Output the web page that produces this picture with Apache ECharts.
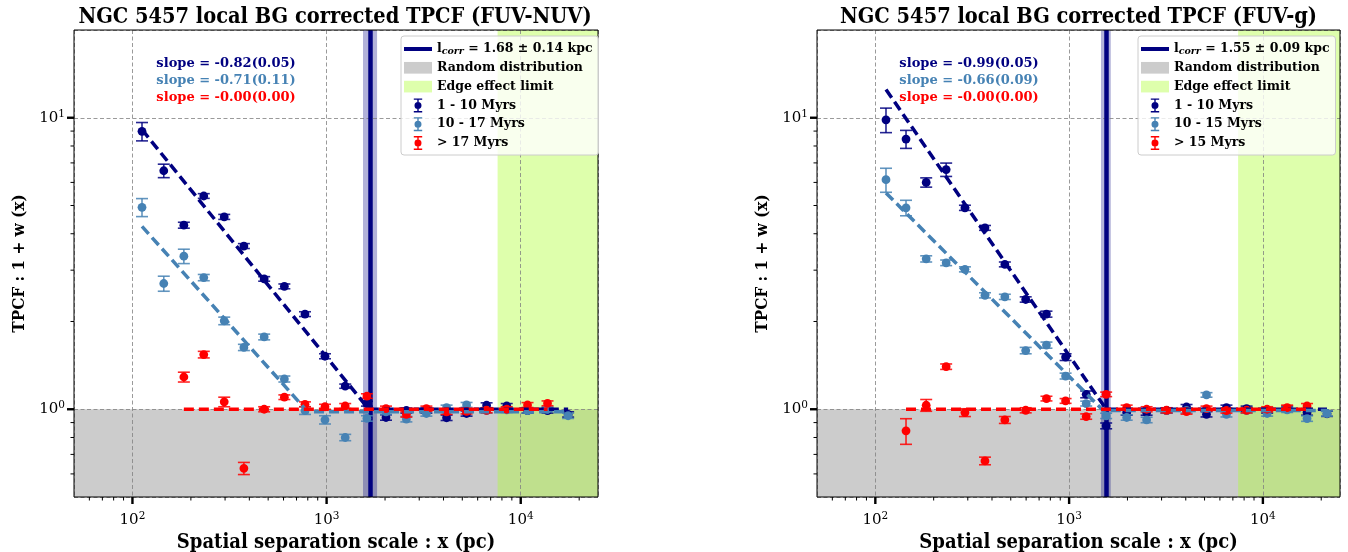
<!DOCTYPE html>
<html>
<head>
<meta charset="utf-8">
<title>NGC 5457 TPCF</title>
<style>
html, body { margin: 0; padding: 0; background: #fff; }
#chart { width: 1348px; height: 552px; }
</style>
<script src="https://cdn.jsdelivr.net/npm/echarts@6/dist/echarts.min.js"></script>
</head>
<body>
<div id="chart"></div>
<script>
// ---- data ----
const titles = ['NGC 5457 local BG corrected TPCF (FUV-NUV)', 'NGC 5457 local BG corrected TPCF (FUV-g)'];
const ageNames = [['1 - 10 Myrs', '10 - 17 Myrs', '> 17 Myrs'], ['1 - 10 Myrs', '10 - 15 Myrs', '> 15 Myrs']];
const slopeTexts = [
    ['slope = -0.82(0.05)', 'slope = -0.71(0.11)', 'slope = -0.00(0.00)'],
    ['slope = -0.99(0.05)', 'slope = -0.66(0.09)', 'slope = -0.00(0.00)']
];
const lcorrKpc = [1.68, 1.55];
const lcorrErr = [0.14, 0.09];
const edgeStart = [7600, 7450];
const xRange = [50, 25000];
const yRange = [0.5, 20];

// FUV-NUV panel
const sepL = [112, 145, 184, 233, 297, 375, 477, 606, 774, 981, 1247, 1614, 2023, 2576, 3266, 4150, 5260, 6670, 8470, 10840, 13740, 17540];
const youngL = [8.98, 6.58, 4.28, 5.39, 4.57, 3.63, 2.80, 2.64, 2.12, 1.52, 1.20, 1.045, 0.937, 0.99, 0.99, 0.935, 0.967, 1.032, 1.026, 0.99, 0.99, 0.96];
const youngErrL = [0.65, 0.35, 0.10, 0.10, 0.09, 0.07, 0.05, 0.05, 0.04, 0.03, 0.02, 0.02, 0.02, 0.02, 0.02, 0.02, 0.02, 0.02, 0.02, 0.02, 0.02, 0.02];
const midL = [4.93, 2.70, 3.35, 2.83, 2.01, 1.63, 1.77, 1.27, 0.99, 0.92, 0.80, 0.93, 0.98, 0.925, 0.967, 1.013, 1.035, 0.99, 0.995, 0.99, 1.0, 0.95];
const midErrL = [0.35, 0.16, 0.19, 0.07, 0.06, 0.04, 0.04, 0.03, 0.03, 0.03, 0.02, 0.02, 0.02, 0.02, 0.02, 0.02, 0.02, 0.02, 0.02, 0.02, 0.02, 0.02];
const oldL = [null, null, 1.29, 1.54, 1.06, 0.627, 1.0, 1.10, 1.04, 1.02, 1.026, 1.11, 1.005, 0.96, 1.005, 0.98, 0.984, 0.992, 1.0, 1.034, 1.048, null];
const oldErrL = [null, null, 0.05, 0.04, 0.04, 0.03, 0.02, 0.02, 0.02, 0.02, 0.02, 0.02, 0.02, 0.02, 0.02, 0.02, 0.02, 0.02, 0.02, 0.02, 0.02, null];
const fitYoungL = [[112, 9.1], [1650, 1.0], [17540, 1.0]];
const fitMidL = [[112, 4.24], [800, 0.98], [17540, 0.98]];
const fitOldL = [[184, 1.0], [13740, 1.0]];

// FUV-g panel
const sepR = [113.5, 144, 183, 232, 290, 368, 466, 597, 764, 959, 1225, 1553, 1982, 2512, 3184, 4036, 5117, 6486, 8241, 10520, 13340, 16900, 21430];
const youngR = [9.84, 8.45, 6.0, 6.64, 4.91, 4.19, 3.14, 2.38, 2.12, 1.51, 1.125, 0.877, 0.974, 0.974, 0.99, 1.018, 0.961, 1.013, 1.005, 0.99, 1.005, 0.974, 0.965];
const youngErrR = [0.95, 0.6, 0.22, 0.35, 0.10, 0.08, 0.06, 0.05, 0.05, 0.04, 0.03, 0.02, 0.02, 0.02, 0.02, 0.02, 0.02, 0.02, 0.02, 0.02, 0.02, 0.02, 0.02];
const midR = [6.13, 4.91, 3.28, 3.18, 3.02, 2.46, 2.43, 1.59, 1.66, 1.30, 1.046, 0.949, 0.937, 0.919, 0.99, 0.99, 1.12, 0.961, 0.99, 0.967, 0.995, 0.929, 0.967];
const midErrR = [0.58, 0.30, 0.08, 0.07, 0.06, 0.05, 0.05, 0.04, 0.04, 0.03, 0.02, 0.02, 0.02, 0.02, 0.02, 0.02, 0.02, 0.02, 0.02, 0.02, 0.02, 0.02, 0.02];
const oldR = [null, 0.843, 1.032, 1.40, 0.974, 0.665, 0.919, 0.992, 1.088, 1.068, 0.944, 1.125, 1.013, 1.0, 0.992, 0.982, 1.005, 0.99, 0.992, 1.0, 1.013, 1.026, null];
const oldErrR = [null, 0.085, 0.048, 0.03, 0.03, 0.02, 0.025, 0.02, 0.02, 0.02, 0.02, 0.02, 0.02, 0.02, 0.02, 0.02, 0.02, 0.02, 0.02, 0.02, 0.02, 0.02, null];
const fitYoungR = [[113.5, 12.5], [1553, 1.0], [21430, 1.0]];
const fitMidR = [[113.5, 5.52], [1500, 0.99], [21430, 0.99]];
const fitOldR = [[144, 1.0], [16900, 1.0]];

// tick positions
const xMajorTicks = [100, 1000, 10000];
const xMinorTicks = [60, 70, 80, 90, 200, 300, 400, 500, 600, 700, 800, 900, 2000, 3000, 4000, 5000, 6000, 7000, 8000, 9000, 20000];
const yMajorTicks = [1, 10];
const yMinorTicks = [0.6, 0.7, 0.8, 0.9, 2, 3, 4, 5, 6, 7, 8, 9];

const FONT = '"DejaVu Serif", serif';
const FONT_C = '"DejaVu Serif Condensed", "DejaVu Serif", serif';
const NAVY = '#000080', STEEL = '#4682b4', RED = '#ff0000';
const ageColors = [NAVY, STEEL, RED];

const panels = [
    { sep: sepL, vals: [youngL, midL, oldL], errs: [youngErrL, midErrL, oldErrL], fits: [fitYoungL, fitMidL, fitOldL] },
    { sep: sepR, vals: [youngR, midR, oldR], errs: [youngErrR, midErrR, oldErrR], fits: [fitYoungR, fitMidR, fitOldR] }
];
const grids = [
    { left: 74, right: 750, top: 30, bottom: 55 },
    { left: 817, right: 8, top: 30, bottom: 55 }
];

const chart = echarts.init(document.getElementById('chart'));

function errorBarItem(color) {
    return function (params, api) {
        const x = api.value(0), y = api.value(1), e = api.value(2);
        const c = api.coord([x, y]);
        const hi = api.coord([x, y + e]);
        const lo = api.coord([x, y - e]);
        const cap = 6;
        const st = { stroke: color, lineWidth: 1.6, opacity: 0.85 };
        return {
            type: 'group',
            children: [
                { type: 'line', shape: { x1: c[0], y1: hi[1], x2: c[0], y2: lo[1] }, style: st },
                { type: 'line', shape: { x1: c[0] - cap, y1: hi[1], x2: c[0] + cap, y2: hi[1] }, style: st },
                { type: 'line', shape: { x1: c[0] - cap, y1: lo[1], x2: c[0] + cap, y2: lo[1] }, style: st },
                { type: 'circle', shape: { cx: c[0], cy: c[1], r: 4.4 }, style: { fill: color } }
            ]
        };
    };
}

// kind: 0 x major, 1 x minor, 2 y major, 3 y minor
function tickItem(params, api) {
    const c = api.coord([api.value(0), api.value(1)]);
    const kind = api.value(2);
    const len = kind % 2 === 0 ? 7 : 3.5;
    const w = kind % 2 === 0 ? 2.4 : 1;
    const shape = kind < 2
        ? { x1: c[0], y1: c[1], x2: c[0], y2: c[1] + len }
        : { x1: c[0] - len, y1: c[1], x2: c[0], y2: c[1] };
    return { type: 'line', shape: shape, style: { stroke: '#000', lineWidth: w } };
}

function powLabel(v) {
    const e = Math.log10(v);
    if (Math.abs(e - Math.round(e)) > 1e-6) return '';
    return '{b|10}{s|' + Math.round(e) + '}';
}
const powRich = {
    b: { fontFamily: FONT, fontSize: 15, color: '#000', lineHeight: 18 },
    s: { fontFamily: FONT, fontSize: 10.5, color: '#000', lineHeight: 12, verticalAlign: 'top' }
};

const legendIcons = {
    line: 'path://M0,0H28V4H0Z',
    patch: 'path://M0,0H24V10H0Z',
    err: 'path://M2,0H14V2H2Z M7,0H9V20H7Z M2,18H14V20H2Z M8,5A5,5,0,1,1,7.99,5Z'
};
const lcorrNames = lcorrKpc.map((v, i) => 'lcorr' + i);

let series = [];
panels.forEach((P, i) => {
    series.push({
        name: 'Random distribution', type: 'scatter', xAxisIndex: i, yAxisIndex: i, data: [], silent: true,
        itemStyle: { color: 'rgba(128,128,128,0.4)', opacity: 1 },
        markArea: {
            silent: true, z: 1, itemStyle: { color: 'rgba(128,128,128,0.4)' },
            data: [[{ yAxis: yRange[0] }, { yAxis: 1 }]]
        }
    });
    series.push({
        name: 'Edge effect limit', type: 'scatter', xAxisIndex: i, yAxisIndex: i, data: [], silent: true,
        itemStyle: { color: 'rgba(173,255,47,0.4)', opacity: 1 },
        markArea: {
            silent: true, z: 1, itemStyle: { color: 'rgba(173,255,47,0.4)' },
            data: [[{ xAxis: edgeStart[i] }, { xAxis: xRange[1] }]]
        }
    });
    series.push({
        name: lcorrNames[i], type: 'scatter', xAxisIndex: i, yAxisIndex: i, data: [], silent: true,
        itemStyle: { color: NAVY, opacity: 1 },
        markArea: {
            silent: true, z: 1, itemStyle: { color: 'rgba(0,0,128,0.3)' },
            data: [[{ xAxis: (lcorrKpc[i] - lcorrErr[i]) * 1000 }, { xAxis: (lcorrKpc[i] + lcorrErr[i]) * 1000 }]]
        },
        markLine: {
            silent: true, z: 3, symbol: 'none', label: { show: false },
            lineStyle: { color: NAVY, width: 4.5, type: 'solid', opacity: 1 },
            data: [{ xAxis: lcorrKpc[i] * 1000 }]
        }
    });
    P.vals.forEach((vals, k) => {
        const data = [];
        P.sep.forEach((x, j) => { if (vals[j] != null) data.push([x, vals[j], P.errs[k][j]]); });
        series.push({
            name: ageNames[i][k], type: 'custom', xAxisIndex: i, yAxisIndex: i, z: 4, silent: true,
            itemStyle: { color: ageColors[k] },
            renderItem: errorBarItem(ageColors[k]),
            data: data
        });
    });
    P.fits.forEach((fit, k) => {
        series.push({
            name: 'fit' + i + k, type: 'line', xAxisIndex: i, yAxisIndex: i, z: 5, silent: true,
            showSymbol: false, data: fit,
            lineStyle: { color: ageColors[k], width: 3.5, type: [10, 5] }
        });
    });
    const ticks = [];
    xMajorTicks.forEach(v => ticks.push([v, yRange[0], 0]));
    xMinorTicks.forEach(v => ticks.push([v, yRange[0], 1]));
    yMajorTicks.forEach(v => ticks.push([xRange[0], v, 2]));
    yMinorTicks.forEach(v => ticks.push([xRange[0], v, 3]));
    series.push({
        name: 'ticks' + i, type: 'custom', xAxisIndex: i, yAxisIndex: i, z: 6, silent: true,
        renderItem: tickItem, data: ticks
    });
});

const legendRich = {
    b: { fontFamily: FONT, fontWeight: 'bold', fontSize: 12.5, color: '#000', lineHeight: 16 },
    sub: { fontFamily: FONT, fontStyle: 'italic', fontSize: 9.5, color: '#000', lineHeight: 10, verticalAlign: 'bottom' }
};

const option = {
    animation: false,
    backgroundColor: '#fff',
    title: titles.map((t, i) => ({
        text: t,
        left: i === 0 ? 330 : 1073.5,
        textAlign: 'center',
        top: 1,
        textStyle: { fontFamily: FONT_C, fontWeight: 'bold', fontSize: 21.6, color: '#000' }
    })),
    grid: grids.map(g => Object.assign({
        show: true, borderColor: '#000', borderWidth: 1, z: 7, backgroundColor: 'transparent',
        containLabel: false, outerBoundsMode: 'none'
    }, g)),
    legend: [0, 1].map(i => ({
        orient: 'vertical',
        left: i === 0 ? 401 : 1138,
        top: 36,
        selectedMode: false,
        itemWidth: 28,
        itemHeight: 14,
        itemGap: 2.8,
        padding: [5, 6, 4, 3],
        backgroundColor: 'rgba(255,255,255,0.8)',
        borderColor: '#cccccc',
        borderWidth: 1,
        borderRadius: 3,
        z: 8,
        textStyle: { fontFamily: FONT, fontWeight: 'bold', fontSize: 12.5, color: '#000', lineHeight: 16, rich: legendRich },
        formatter: function (name) {
            const idx = lcorrNames.indexOf(name);
            if (idx >= 0) {
                return '{b|l}{sub|corr}{b| = ' + lcorrKpc[idx].toFixed(2) + ' \u00b1 ' + lcorrErr[idx].toFixed(2) + ' kpc}';
            }
            return '{b|' + name + '}';
        },
        data: [
            { name: lcorrNames[i], icon: legendIcons.line },
            { name: 'Random distribution', icon: legendIcons.patch },
            { name: 'Edge effect limit', icon: legendIcons.patch },
            { name: ageNames[i][0], icon: legendIcons.err },
            { name: ageNames[i][1], icon: legendIcons.err },
            { name: ageNames[i][2], icon: legendIcons.err }
        ]
    })),
    xAxis: [0, 1].map(i => ({
        type: 'log', logBase: 10, gridIndex: i, min: xRange[0], max: xRange[1], z: 2,
        name: 'Spatial separation scale : x (pc)', nameLocation: 'middle', nameGap: 32,
        nameTextStyle: { fontFamily: FONT_C, fontWeight: 'bold', fontSize: 20, color: '#000' },
        axisLine: { show: false },
        axisTick: { show: false },
        axisLabel: { formatter: powLabel, margin: 14, rich: powRich },
        splitLine: { show: true, lineStyle: { color: '#808080', width: 0.8, type: [4, 2.5] } }
    })),
    yAxis: [0, 1].map(i => ({
        type: 'log', logBase: 10, gridIndex: i, min: yRange[0], max: yRange[1], z: 2,
        name: 'TPCF : 1 + w (x)', nameLocation: 'middle', nameGap: 46, nameRotate: 90,
        nameTextStyle: { fontFamily: FONT_C, fontWeight: 'bold', fontSize: 17, color: '#000' },
        axisLine: { show: false },
        axisTick: { show: false },
        axisLabel: { formatter: powLabel, margin: 9, rich: powRich },
        splitLine: { show: true, lineStyle: { color: '#808080', width: 0.8, type: [4, 2.5] } }
    })),
    graphic: [].concat.apply([], [0, 1].map(i => slopeTexts[i].map((t, k) => ({
        type: 'text',
        x: grids[i].left + 152,
        y: 63.5 + k * 17,
        z: 8,
        silent: true,
        style: {
            text: t, fill: ageColors[k], font: 'bold 13px ' + FONT,
            textAlign: 'center', textVerticalAlign: 'middle'
        }
    })))),
    series: series
};

chart.setOption(option);
</script>
</body>
</html>
